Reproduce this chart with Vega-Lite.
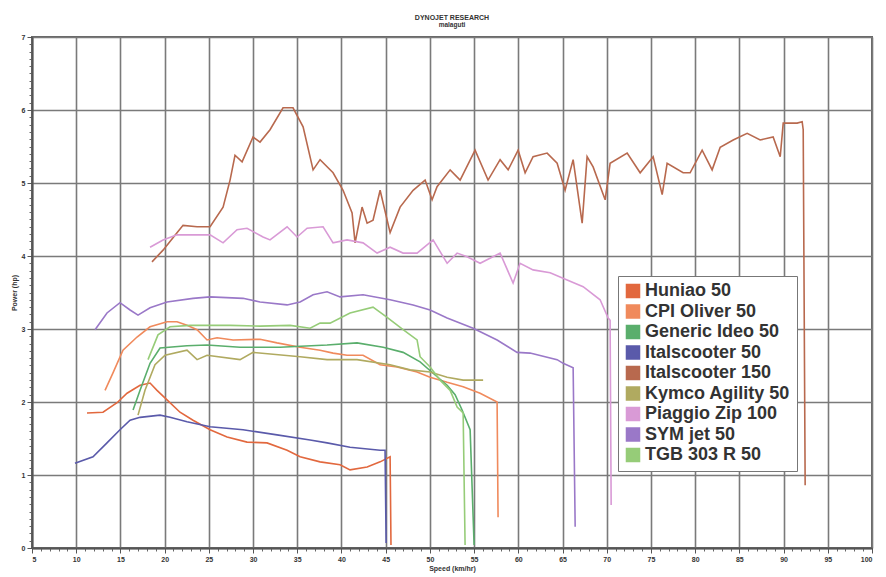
{
  "$schema": "https://vega.github.io/schema/vega-lite/v6.json",
  "width": 840,
  "height": 511,
  "autosize": {"type": "none"},
  "padding": {"left": 32, "top": 37, "right": 14, "bottom": 29},
  "background": "white",
  "title": {
    "text": "DYNOJET RESEARCH",
    "subtitle": "malaguti",
    "fontSize": 7,
    "subtitleFontSize": 6.5,
    "fontWeight": "bold",
    "subtitleFontWeight": "bold",
    "font": "Liberation Sans",
    "subtitleFont": "Liberation Sans",
    "color": "#333",
    "subtitleColor": "#333",
    "anchor": "middle",
    "offset": 5,
    "subtitlePadding": 1
  },
  "config": {
    "view": {"stroke": "#666", "strokeWidth": 2},
    "axis": {
      "labelFont": "Liberation Sans",
      "labelFontWeight": "bold",
      "labelFontSize": 7,
      "labelColor": "#333",
      "titleFont": "Liberation Sans",
      "titleFontWeight": "bold",
      "titleFontSize": 7,
      "titleColor": "#333",
      "gridColor": "#7a7a7a",
      "gridWidth": 1.6,
      "gridOpacity": 1,
      "domainColor": "#555",
      "domainWidth": 2,
      "tickColor": "#555"
    }
  },
  "data": {
    "values": [
      {"s":"Huniao 50","x":11.22,"y":1.85},{"s":"Huniao 50","x":13.03,"y":1.86},{"s":"Huniao 50","x":14.62,"y":1.99},{"s":"Huniao 50","x":15.75,"y":2.12},{"s":"Huniao 50","x":17.22,"y":2.23},{"s":"Huniao 50","x":18.35,"y":2.26},{"s":"Huniao 50","x":19.14,"y":2.16},{"s":"Huniao 50","x":20.27,"y":2.03},{"s":"Huniao 50","x":21.74,"y":1.86},{"s":"Huniao 50","x":23.21,"y":1.75},{"s":"Huniao 50","x":25.14,"y":1.62},{"s":"Huniao 50","x":27.06,"y":1.52},{"s":"Huniao 50","x":29.32,"y":1.45},{"s":"Huniao 50","x":31.58,"y":1.44},{"s":"Huniao 50","x":33.85,"y":1.34},{"s":"Huniao 50","x":35.32,"y":1.25},{"s":"Huniao 50","x":37.58,"y":1.18},{"s":"Huniao 50","x":39.84,"y":1.14},{"s":"Huniao 50","x":40.97,"y":1.07},{"s":"Huniao 50","x":42.9,"y":1.11},{"s":"Huniao 50","x":44.37,"y":1.18},{"s":"Huniao 50","x":45.5,"y":1.25},{"s":"Huniao 50","x":45.6,"y":0.04},

      {"s":"CPI Oliver 50","x":13.26,"y":2.16},{"s":"CPI Oliver 50","x":14.16,"y":2.4},{"s":"CPI Oliver 50","x":15.29,"y":2.71},{"s":"CPI Oliver 50","x":16.88,"y":2.89},{"s":"CPI Oliver 50","x":18.35,"y":3.03},{"s":"CPI Oliver 50","x":20.27,"y":3.1},{"s":"CPI Oliver 50","x":21.4,"y":3.1},{"s":"CPI Oliver 50","x":22.53,"y":3.05},{"s":"CPI Oliver 50","x":23.67,"y":2.99},{"s":"CPI Oliver 50","x":24.8,"y":2.85},{"s":"CPI Oliver 50","x":25.93,"y":2.88},{"s":"CPI Oliver 50","x":27.74,"y":2.85},{"s":"CPI Oliver 50","x":30.79,"y":2.86},{"s":"CPI Oliver 50","x":32.71,"y":2.81},{"s":"CPI Oliver 50","x":35.32,"y":2.75},{"s":"CPI Oliver 50","x":37.58,"y":2.71},{"s":"CPI Oliver 50","x":39.05,"y":2.67},{"s":"CPI Oliver 50","x":40.63,"y":2.64},{"s":"CPI Oliver 50","x":42.44,"y":2.64},{"s":"CPI Oliver 50","x":44.37,"y":2.51},{"s":"CPI Oliver 50","x":46.29,"y":2.48},{"s":"CPI Oliver 50","x":48.55,"y":2.41},{"s":"CPI Oliver 50","x":50.02,"y":2.34},{"s":"CPI Oliver 50","x":51.95,"y":2.27},{"s":"CPI Oliver 50","x":53.76,"y":2.21},{"s":"CPI Oliver 50","x":55.68,"y":2.12},{"s":"CPI Oliver 50","x":57.6,"y":2.0},{"s":"CPI Oliver 50","x":57.71,"y":0.42},

      {"s":"Generic Ideo 50","x":16.43,"y":1.89},{"s":"Generic Ideo 50","x":17.22,"y":2.16},{"s":"Generic Ideo 50","x":18.35,"y":2.53},{"s":"Generic Ideo 50","x":19.48,"y":2.74},{"s":"Generic Ideo 50","x":22.53,"y":2.77},{"s":"Generic Ideo 50","x":24.8,"y":2.78},{"s":"Generic Ideo 50","x":28.53,"y":2.75},{"s":"Generic Ideo 50","x":33.05,"y":2.75},{"s":"Generic Ideo 50","x":38.37,"y":2.78},{"s":"Generic Ideo 50","x":41.76,"y":2.81},{"s":"Generic Ideo 50","x":44.71,"y":2.75},{"s":"Generic Ideo 50","x":46.97,"y":2.68},{"s":"Generic Ideo 50","x":48.89,"y":2.55},{"s":"Generic Ideo 50","x":50.59,"y":2.37},{"s":"Generic Ideo 50","x":51.95,"y":2.23},{"s":"Generic Ideo 50","x":52.85,"y":2.1},{"s":"Generic Ideo 50","x":53.64,"y":1.89},{"s":"Generic Ideo 50","x":54.55,"y":1.62},{"s":"Generic Ideo 50","x":55.0,"y":0.04},

      {"s":"Italscooter 50","x":9.86,"y":1.16},{"s":"Italscooter 50","x":11.9,"y":1.25},{"s":"Italscooter 50","x":13.48,"y":1.44},{"s":"Italscooter 50","x":14.95,"y":1.62},{"s":"Italscooter 50","x":16.09,"y":1.75},{"s":"Italscooter 50","x":17.22,"y":1.79},{"s":"Italscooter 50","x":19.48,"y":1.82},{"s":"Italscooter 50","x":20.61,"y":1.79},{"s":"Italscooter 50","x":22.53,"y":1.73},{"s":"Italscooter 50","x":25.14,"y":1.66},{"s":"Italscooter 50","x":28.87,"y":1.62},{"s":"Italscooter 50","x":32.71,"y":1.55},{"s":"Italscooter 50","x":36.45,"y":1.48},{"s":"Italscooter 50","x":38.37,"y":1.44},{"s":"Italscooter 50","x":40.97,"y":1.38},{"s":"Italscooter 50","x":44.37,"y":1.34},{"s":"Italscooter 50","x":44.93,"y":1.34},{"s":"Italscooter 50","x":45.05,"y":0.07},

      {"s":"Italscooter 150","x":18.57,"y":3.92},{"s":"Italscooter 150","x":19.82,"y":4.08},{"s":"Italscooter 150","x":21.4,"y":4.32},{"s":"Italscooter 150","x":22.08,"y":4.42},{"s":"Italscooter 150","x":23.67,"y":4.4},{"s":"Italscooter 150","x":25.14,"y":4.4},{"s":"Italscooter 150","x":26.61,"y":4.67},{"s":"Italscooter 150","x":27.4,"y":5.04},{"s":"Italscooter 150","x":27.96,"y":5.38},{"s":"Italscooter 150","x":28.76,"y":5.29},{"s":"Italscooter 150","x":30.0,"y":5.63},{"s":"Italscooter 150","x":30.79,"y":5.56},{"s":"Italscooter 150","x":31.92,"y":5.73},{"s":"Italscooter 150","x":33.39,"y":6.03},{"s":"Italscooter 150","x":34.52,"y":6.03},{"s":"Italscooter 150","x":35.66,"y":5.77},{"s":"Italscooter 150","x":36.79,"y":5.18},{"s":"Italscooter 150","x":37.58,"y":5.32},{"s":"Italscooter 150","x":39.05,"y":5.14},{"s":"Italscooter 150","x":40.18,"y":4.9},{"s":"Italscooter 150","x":41.2,"y":4.59},{"s":"Italscooter 150","x":41.54,"y":4.18},{"s":"Italscooter 150","x":42.33,"y":4.67},{"s":"Italscooter 150","x":42.9,"y":4.45},{"s":"Italscooter 150","x":43.57,"y":4.49},{"s":"Italscooter 150","x":44.37,"y":4.9},{"s":"Italscooter 150","x":45.5,"y":4.32},{"s":"Italscooter 150","x":46.63,"y":4.67},{"s":"Italscooter 150","x":48.1,"y":4.9},{"s":"Italscooter 150","x":49.46,"y":5.04},{"s":"Italscooter 150","x":50.25,"y":4.77},{"s":"Italscooter 150","x":50.81,"y":4.95},{"s":"Italscooter 150","x":52.29,"y":5.18},{"s":"Italscooter 150","x":53.42,"y":5.04},{"s":"Italscooter 150","x":55.11,"y":5.45},{"s":"Italscooter 150","x":56.58,"y":5.04},{"s":"Italscooter 150","x":57.94,"y":5.32},{"s":"Italscooter 150","x":58.85,"y":5.18},{"s":"Italscooter 150","x":59.98,"y":5.45},{"s":"Italscooter 150","x":60.77,"y":5.14},{"s":"Italscooter 150","x":61.67,"y":5.36},{"s":"Italscooter 150","x":63.26,"y":5.41},{"s":"Italscooter 150","x":64.39,"y":5.27},{"s":"Italscooter 150","x":65.29,"y":4.9},{"s":"Italscooter 150","x":66.2,"y":5.32},{"s":"Italscooter 150","x":67.22,"y":4.45},{"s":"Italscooter 150","x":67.78,"y":5.36},{"s":"Italscooter 150","x":68.46,"y":5.22},{"s":"Italscooter 150","x":69.82,"y":4.77},{"s":"Italscooter 150","x":70.38,"y":5.27},{"s":"Italscooter 150","x":72.31,"y":5.41},{"s":"Italscooter 150","x":73.78,"y":5.14},{"s":"Italscooter 150","x":75.25,"y":5.36},{"s":"Italscooter 150","x":76.27,"y":4.84},{"s":"Italscooter 150","x":76.83,"y":5.27},{"s":"Italscooter 150","x":78.64,"y":5.14},{"s":"Italscooter 150","x":79.43,"y":5.14},{"s":"Italscooter 150","x":80.79,"y":5.45},{"s":"Italscooter 150","x":81.92,"y":5.18},{"s":"Italscooter 150","x":82.83,"y":5.49},{"s":"Italscooter 150","x":84.3,"y":5.59},{"s":"Italscooter 150","x":85.88,"y":5.68},{"s":"Italscooter 150","x":87.35,"y":5.59},{"s":"Italscooter 150","x":88.82,"y":5.63},{"s":"Italscooter 150","x":89.62,"y":5.36},{"s":"Italscooter 150","x":89.96,"y":5.82},{"s":"Italscooter 150","x":91.54,"y":5.82},{"s":"Italscooter 150","x":92.1,"y":5.84},{"s":"Italscooter 150","x":92.22,"y":5.73},{"s":"Italscooter 150","x":92.44,"y":0.86},

      {"s":"Kymco Agility 50","x":16.99,"y":1.82},{"s":"Kymco Agility 50","x":17.78,"y":2.16},{"s":"Kymco Agility 50","x":18.91,"y":2.51},{"s":"Kymco Agility 50","x":20.05,"y":2.64},{"s":"Kymco Agility 50","x":22.53,"y":2.71},{"s":"Kymco Agility 50","x":23.67,"y":2.58},{"s":"Kymco Agility 50","x":24.8,"y":2.64},{"s":"Kymco Agility 50","x":28.53,"y":2.58},{"s":"Kymco Agility 50","x":30.0,"y":2.68},{"s":"Kymco Agility 50","x":35.32,"y":2.62},{"s":"Kymco Agility 50","x":38.37,"y":2.58},{"s":"Kymco Agility 50","x":41.76,"y":2.58},{"s":"Kymco Agility 50","x":45.5,"y":2.51},{"s":"Kymco Agility 50","x":47.76,"y":2.44},{"s":"Kymco Agility 50","x":50.02,"y":2.41},{"s":"Kymco Agility 50","x":51.95,"y":2.34},{"s":"Kymco Agility 50","x":53.76,"y":2.3},{"s":"Kymco Agility 50","x":56.02,"y":2.3},

      {"s":"Piaggio Zip 100","x":18.35,"y":4.12},{"s":"Piaggio Zip 100","x":19.82,"y":4.22},{"s":"Piaggio Zip 100","x":21.4,"y":4.29},{"s":"Piaggio Zip 100","x":25.14,"y":4.29},{"s":"Piaggio Zip 100","x":26.61,"y":4.18},{"s":"Piaggio Zip 100","x":28.19,"y":4.36},{"s":"Piaggio Zip 100","x":29.32,"y":4.38},{"s":"Piaggio Zip 100","x":31.13,"y":4.26},{"s":"Piaggio Zip 100","x":31.92,"y":4.22},{"s":"Piaggio Zip 100","x":33.85,"y":4.4},{"s":"Piaggio Zip 100","x":34.98,"y":4.26},{"s":"Piaggio Zip 100","x":36.11,"y":4.38},{"s":"Piaggio Zip 100","x":37.92,"y":4.4},{"s":"Piaggio Zip 100","x":39.05,"y":4.18},{"s":"Piaggio Zip 100","x":40.63,"y":4.22},{"s":"Piaggio Zip 100","x":42.44,"y":4.18},{"s":"Piaggio Zip 100","x":44.03,"y":4.04},{"s":"Piaggio Zip 100","x":45.5,"y":4.12},{"s":"Piaggio Zip 100","x":46.97,"y":4.04},{"s":"Piaggio Zip 100","x":48.55,"y":4.04},{"s":"Piaggio Zip 100","x":50.36,"y":4.22},{"s":"Piaggio Zip 100","x":51.95,"y":3.9},{"s":"Piaggio Zip 100","x":53.08,"y":4.04},{"s":"Piaggio Zip 100","x":54.21,"y":3.99},{"s":"Piaggio Zip 100","x":55.68,"y":3.9},{"s":"Piaggio Zip 100","x":57.94,"y":4.04},{"s":"Piaggio Zip 100","x":59.41,"y":3.63},{"s":"Piaggio Zip 100","x":60.2,"y":3.9},{"s":"Piaggio Zip 100","x":61.67,"y":3.81},{"s":"Piaggio Zip 100","x":63.6,"y":3.77},{"s":"Piaggio Zip 100","x":65.52,"y":3.67},{"s":"Piaggio Zip 100","x":67.33,"y":3.58},{"s":"Piaggio Zip 100","x":69.25,"y":3.4},{"s":"Piaggio Zip 100","x":70.16,"y":3.15},{"s":"Piaggio Zip 100","x":70.38,"y":3.12},{"s":"Piaggio Zip 100","x":70.5,"y":0.59},

      {"s":"SYM jet 50","x":12.13,"y":2.99},{"s":"SYM jet 50","x":13.48,"y":3.22},{"s":"SYM jet 50","x":14.95,"y":3.36},{"s":"SYM jet 50","x":16.09,"y":3.26},{"s":"SYM jet 50","x":16.99,"y":3.19},{"s":"SYM jet 50","x":18.35,"y":3.29},{"s":"SYM jet 50","x":20.27,"y":3.37},{"s":"SYM jet 50","x":23.21,"y":3.42},{"s":"SYM jet 50","x":25.14,"y":3.44},{"s":"SYM jet 50","x":28.87,"y":3.42},{"s":"SYM jet 50","x":30.79,"y":3.37},{"s":"SYM jet 50","x":33.85,"y":3.33},{"s":"SYM jet 50","x":35.32,"y":3.37},{"s":"SYM jet 50","x":36.79,"y":3.47},{"s":"SYM jet 50","x":38.37,"y":3.51},{"s":"SYM jet 50","x":39.84,"y":3.44},{"s":"SYM jet 50","x":42.44,"y":3.47},{"s":"SYM jet 50","x":45.5,"y":3.4},{"s":"SYM jet 50","x":48.1,"y":3.33},{"s":"SYM jet 50","x":50.02,"y":3.26},{"s":"SYM jet 50","x":51.95,"y":3.15},{"s":"SYM jet 50","x":54.89,"y":3.01},{"s":"SYM jet 50","x":57.6,"y":2.85},{"s":"SYM jet 50","x":59.86,"y":2.68},{"s":"SYM jet 50","x":61.33,"y":2.67},{"s":"SYM jet 50","x":64.39,"y":2.58},{"s":"SYM jet 50","x":65.07,"y":2.53},{"s":"SYM jet 50","x":66.2,"y":2.47},{"s":"SYM jet 50","x":66.43,"y":0.29},

      {"s":"TGB 303 R 50","x":18.12,"y":2.58},{"s":"TGB 303 R 50","x":19.25,"y":2.92},{"s":"TGB 303 R 50","x":20.61,"y":3.03},{"s":"TGB 303 R 50","x":22.87,"y":3.05},{"s":"TGB 303 R 50","x":27.4,"y":3.05},{"s":"TGB 303 R 50","x":30.79,"y":3.04},{"s":"TGB 303 R 50","x":34.19,"y":3.05},{"s":"TGB 303 R 50","x":36.45,"y":3.01},{"s":"TGB 303 R 50","x":37.58,"y":3.08},{"s":"TGB 303 R 50","x":38.71,"y":3.08},{"s":"TGB 303 R 50","x":40.97,"y":3.22},{"s":"TGB 303 R 50","x":43.57,"y":3.3},{"s":"TGB 303 R 50","x":45.16,"y":3.16},{"s":"TGB 303 R 50","x":46.97,"y":2.99},{"s":"TGB 303 R 50","x":48.55,"y":2.85},{"s":"TGB 303 R 50","x":48.89,"y":2.62},{"s":"TGB 303 R 50","x":50.02,"y":2.48},{"s":"TGB 303 R 50","x":51.15,"y":2.3},{"s":"TGB 303 R 50","x":52.29,"y":2.16},{"s":"TGB 303 R 50","x":53.08,"y":1.93},{"s":"TGB 303 R 50","x":53.76,"y":1.85},{"s":"TGB 303 R 50","x":53.98,"y":0.04}
    ]
  },
  "layer": [
    {
      "mark": {"type": "point", "opacity": 0},
      "encoding": {
        "x": {"field": "x", "type": "quantitative", "scale": {"domain": [5, 100], "nice": false, "zero": false},
              "axis": {"orient": "bottom", "tickCount": 95, "labels": false, "grid": false, "domain": false, "tickSize": 3, "title": null, "tickColor": "#666"}},
        "y": {"field": "y", "type": "quantitative", "scale": {"domain": [0, 7], "nice": false},
              "axis": {"orient": "left", "tickCount": 70, "labels": false, "grid": false, "domain": false, "tickSize": 3, "title": null, "tickColor": "#666"}}
      }
    },
    {
      "mark": {"type": "line", "strokeWidth": 1.6, "interpolate": "linear"},
      "encoding": {
        "x": {"field": "x", "type": "quantitative", "scale": {"domain": [5, 100], "nice": false, "zero": false},
              "axis": {"orient": "bottom", "values": [5,10,15,20,25,30,35,40,45,50,55,60,65,70,75,80,85,90,95,100], "grid": true, "tickSize": 5, "labelPadding": 2, "title": "Speed (km/hr)", "titlePadding": 2}},
        "y": {"field": "y", "type": "quantitative", "scale": {"domain": [0, 7], "nice": false},
              "axis": {"orient": "left", "values": [0,1,2,3,4,5,6,7], "grid": true, "tickSize": 5, "labelPadding": 2, "title": "Power (hp)", "titlePadding": 4}},
        "color": {
          "field": "s", "type": "nominal",
          "scale": {
            "domain": ["Huniao 50","CPI Oliver 50","Generic Ideo 50","Italscooter 50","Italscooter 150","Kymco Agility 50","Piaggio Zip 100","SYM jet 50","TGB 303 R 50"],
            "range": ["#e2683e","#f08a5c","#5aae6c","#5a5aaa","#b8694e","#b0aa60","#d99ad6","#9a78c8","#96cc78"]
          },
          "legend": {
            "title": null,
            "orient": "none",
            "legendX": 586,
            "legendY": 239,
            "symbolType": "square",
            "symbolSize": 170,
            "symbolStrokeColor": "#333",
            "symbolStrokeWidth": 1.5,
            "symbolOpacity": 1,
            "labelFont": "Liberation Sans",
            "labelFontWeight": "bold",
            "labelFontSize": 18,
            "labelColor": "#333",
            "labelLimit": 300,
            "labelOffset": 3,
            "rowPadding": 0.5,
            "padding": 6,
            "fillColor": "white",
            "strokeColor": "#777",
            "encode": {
              "symbols": {
                "update": {
                  "fill": {"scale": "color", "field": "value"},
                  "fillOpacity": {"value": 1},
                  "stroke": {"value": "#333"},
                  "strokeWidth": {"value": 1.5}
                }
              }
            }
          }
        }
      }
    }
  ],
  "resolve": {"axis": {"x": "independent", "y": "independent"}}
}
